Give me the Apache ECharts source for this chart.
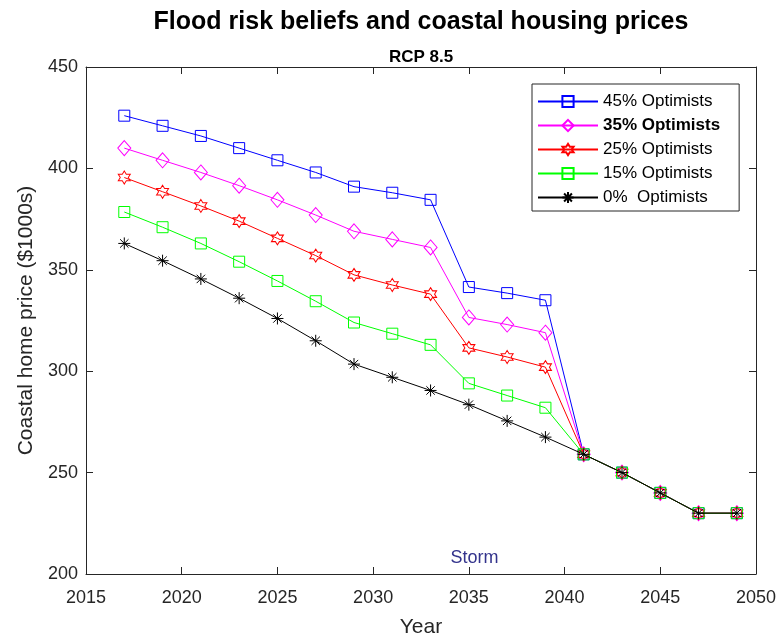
<!DOCTYPE html>
<html>
<head>
<meta charset="utf-8">
<title>Flood risk beliefs and coastal housing prices</title>
<script src="https://cdn.jsdelivr.net/npm/echarts@6/dist/echarts.min.js"></script>
<style>
  html, body { margin: 0; padding: 0; background: #fff; }
  #chart { width: 778px; height: 642px; }
</style>
</head>
<body>
<div id="chart"></div>
<script>
// Model years (every two years)
const years = [2017, 2019, 2021, 2023, 2025, 2027, 2029, 2031, 2033, 2035, 2037, 2039, 2041, 2043, 2045, 2047, 2049];

// Coastal home price ($1000s) by share of optimists
const opt45 = [426, 421, 416, 410, 404, 398, 391, 388, 384.5, 341.5, 338.5, 335, 259, 250, 240, 230, 230];
const opt35 = [410, 404, 398, 391.5, 384.5, 377, 369, 365, 361, 326.5, 323, 319, 259, 250, 240, 230, 230];
const opt25 = [395.5, 388.5, 381.5, 374, 365.5, 357, 347.5, 342.5, 338, 311.5, 307, 302, 259, 250, 240, 230, 230];
const opt15 = [378.5, 371, 363, 354, 344.5, 334.5, 324, 318.5, 313, 294, 288, 282, 259, 250, 240, 230, 230];
const opt0  = [363, 354.5, 345.5, 336, 326, 315, 303.5, 297, 290.5, 283.5, 275.5, 267.5, 259, 250, 240, 230, 230];

const seriesNames = ['45% Optimists', '35% Optimists', '25% Optimists', '15% Optimists', '0%  Optimists'];
const seriesValues = [opt45, opt35, opt25, opt15, opt0];
const seriesColors = ['#0000ff', '#ff00ff', '#ff0000', '#00ff00', '#000000'];

// Axis ticks
const xTicks = { min: 2015, max: 2050, interval: 5 };
const yTicks = { min: 200, max: 450, interval: 50 };

// Storm annotation position (year, price)
const stormLabel = 'Storm';
const stormPos = [2035.3, 207.8];

// Marker shapes: hollow square, diamond, six-pointed star, square, asterisk
const hexagram = 'path://M0,-1L0.289,-0.5L0.866,-0.5L0.577,0L0.866,0.5L0.289,0.5L0,1L-0.289,0.5L-0.866,0.5L-0.577,0L-0.866,-0.5L-0.289,-0.5Z';
const asterisk = 'path://M0,-1L0,1M-1,0L1,0M-0.7,-0.7L0.7,0.7M-0.7,0.7L0.7,-0.7';
const markers = [
  { symbol: 'rect', size: [11, 11] },
  { symbol: 'diamond', size: [13, 15] },
  { symbol: hexagram, size: [12, 13] },
  { symbol: 'rect', size: [11, 11] },
  { symbol: asterisk, size: [12, 12] }
];

const FONT = '"Liberation Sans", Arial, Helvetica, sans-serif';
const AXIS_COLOR = '#262626';

const chart = echarts.init(document.getElementById('chart'), null, { renderer: 'canvas' });

const lineSeries = seriesNames.map((name, i) => ({
  name: name,
  type: 'line',
  data: years.map((y, k) => [y, seriesValues[i][k]]),
  symbol: markers[i].symbol,
  symbolSize: markers[i].size,
  showAllSymbol: true,
  lineStyle: { color: seriesColors[i], width: 1 },
  itemStyle: { color: 'none', borderColor: seriesColors[i], borderWidth: 1 },
  emphasis: { disabled: true },
  animation: false,
  z: 2 + i
}));

const axisCommon = {
  type: 'value',
  axisLine: { show: true, onZero: false, lineStyle: { color: AXIS_COLOR, width: 1 } },
  axisTick: { show: true, inside: true, length: 7, lineStyle: { color: AXIS_COLOR, width: 1 } },
  splitLine: { show: false }
};

chart.setOption({
  backgroundColor: '#ffffff',
  animation: false,
  textStyle: { fontFamily: FONT },
  grid: { left: 86, right: 22, top: 67, bottom: 68, containLabel: false, outerBoundsMode: 'none' },
  graphic: [
    {
      type: 'text', x: 421, y: 22,
      style: { text: 'Flood risk beliefs and coastal housing prices', align: 'center', verticalAlign: 'middle',
               font: 'bold 25px ' + FONT, fill: '#000' }
    },
    {
      type: 'text', x: 421, y: 57,
      style: { text: 'RCP 8.5', align: 'center', verticalAlign: 'middle',
               font: 'bold 17px ' + FONT, fill: '#000' }
    }
  ],
  legend: {
    data: seriesNames,
    orient: 'vertical',
    left: 532,
    top: 84,
    itemWidth: 60,
    itemHeight: 14,
    itemGap: 7,
    itemTextGap: 6,
    padding: [9, 19, 5, 5],
    backgroundColor: '#ffffff',
    borderColor: AXIS_COLOR,
    borderWidth: 1,
    borderRadius: 0,
    selectedMode: false,
    textStyle: {
      fontFamily: FONT, fontSize: 17, color: '#000',
      rich: { b: { fontFamily: FONT, fontSize: 17, fontWeight: 'bold', color: '#000' } }
    },
    formatter: function (name) {
      return name.indexOf('35%') === 0 ? '{b|' + name + '}' : name;
    }
  },
  xAxis: [
    Object.assign({}, axisCommon, {
      position: 'bottom',
      min: xTicks.min, max: xTicks.max, interval: xTicks.interval,
      name: 'Year', nameLocation: 'middle', nameGap: 43,
      nameTextStyle: { fontFamily: FONT, fontSize: 21, color: AXIS_COLOR },
      axisLabel: { fontFamily: FONT, fontSize: 18, color: AXIS_COLOR, margin: 15,
                   formatter: function (v) { return String(v); } }
    }),
    Object.assign({}, axisCommon, {
      position: 'top',
      min: xTicks.min, max: xTicks.max, interval: xTicks.interval,
      axisLabel: { show: false }
    })
  ],
  yAxis: [
    Object.assign({}, axisCommon, {
      position: 'left',
      min: yTicks.min, max: yTicks.max, interval: yTicks.interval,
      name: 'Coastal home price ($1000s)', nameLocation: 'middle', nameGap: 47,
      nameTextStyle: { fontFamily: FONT, fontSize: 21, color: AXIS_COLOR },
      axisLabel: { fontFamily: FONT, fontSize: 18, color: AXIS_COLOR, margin: 8 }
    }),
    Object.assign({}, axisCommon, {
      position: 'right',
      min: yTicks.min, max: yTicks.max, interval: yTicks.interval,
      axisLabel: { show: false }
    })
  ],
  series: lineSeries.concat([
    {
      name: stormLabel,
      type: 'scatter',
      data: [stormPos],
      symbolSize: 0,
      silent: true,
      itemStyle: { opacity: 1 },
      label: {
        show: true, position: 'inside', formatter: stormLabel,
        fontFamily: FONT, fontSize: 18, color: '#33338c', opacity: 1
      },
      z: 1
    }
  ])
});
</script>
</body>
</html>
